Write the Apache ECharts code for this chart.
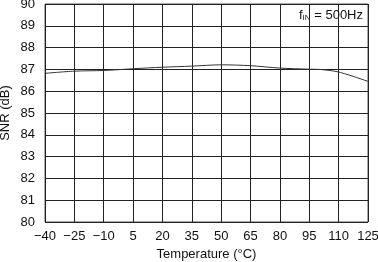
<!DOCTYPE html>
<html><head><meta charset="utf-8">
<script src="https://cdn.jsdelivr.net/npm/echarts@6/dist/echarts.min.js"></script>
<style>html,body{margin:0;padding:0;background:#fff}#c{width:378px;height:262px}</style>
</head><body><div id="c"></div>
<script>
const temps = [-40, -25, -10, 5, 20, 35, 50, 65, 80, 95, 100, 110, 125];
const snr = [86.82, 86.92, 86.95, 87.03, 87.1, 87.15, 87.21, 87.17, 87.06, 87.01, 87.0, 86.88, 86.45];
const chart = echarts.init(document.getElementById('c'), null, {renderer: 'canvas'});
const font = 'Liberation Sans, Arial, sans-serif';
chart.setOption({
  animation: false,
  grid: {left: 45, right: 10, top: 4, bottom: 40, show: true, borderColor: '#555', borderWidth: 1, outerBoundsMode: 'none', containLabel: false},
  xAxis: {
    type: 'value', min: -40, max: 125, interval: 15,
    name: 'Temperature (°C)', nameLocation: 'middle', nameGap: 26, nameMoveOverlap: false,
    nameTextStyle: {fontFamily: font, fontSize: 13, color: '#111'},
    axisLine: {show: false}, axisTick: {show: false},
    axisLabel: {fontFamily: font, fontSize: 13, color: '#111', margin: 8,
      formatter: v => String(v).replace('-', '\u2212')},
    splitLine: {show: true, lineStyle: {color: '#222', width: 1}}
  },
  yAxis: {
    type: 'value', min: 80, max: 90, interval: 1,
    name: 'SNR (dB)', nameLocation: 'middle', nameGap: 33, nameMoveOverlap: false,
    nameTextStyle: {fontFamily: font, fontSize: 13, color: '#111'},
    axisLine: {show: false}, axisTick: {show: false},
    axisLabel: {fontFamily: font, fontSize: 13, color: '#111', margin: 10},
    splitLine: {show: true, lineStyle: {color: '#222', width: 1}}
  },
  graphic: [{
    type: 'text', right: 15, top: 7,
    style: {
      text: '{a|f}{b|IN}{a| = 500Hz}',
      rich: {
        a: {fontFamily: font, fontSize: 13, fill: '#111', verticalAlign: 'bottom'},
        b: {fontFamily: font, fontSize: 8, fill: '#111', padding: [7, 0, 0, 0], verticalAlign: 'bottom'}
      },
      backgroundColor: '#fff'
    }
  }],
  series: [{
    type: 'line', data: temps.map((t, i) => [t, snr[i]]),
    smooth: 0.3, showSymbol: false,
    lineStyle: {color: '#333', width: 1}
  }]
});
</script></body></html>
